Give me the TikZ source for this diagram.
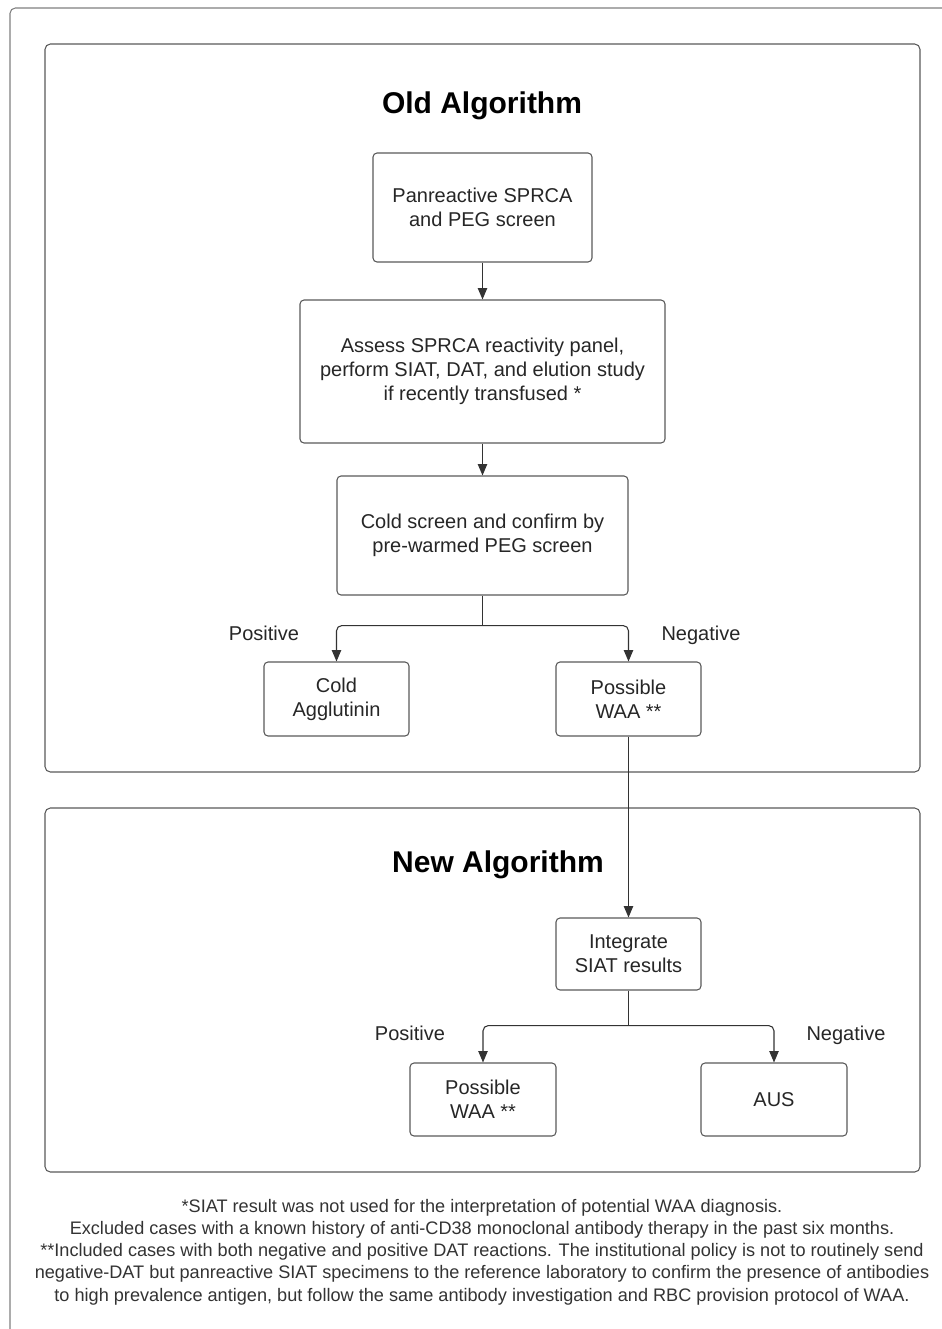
\documentclass[tikz,border=0pt]{standalone}
\usepackage{fontspec}
\setmainfont{Liberation Sans}
\usetikzlibrary{arrows.meta, positioning}

\begin{document}
\begin{tikzpicture}[
	x=0.75pt, y=-0.75pt,
	every node/.style={font=\fontsize{15}{18}\selectfont, text=black!85},
	arrow/.style={-{Triangle[length=8.5pt, width=7pt]}, draw=black!80, line width=0.8pt, rounded corners=4pt},
	link/.style={draw=black!80, line width=0.8pt},
	stepbox/.style={draw=black!65, line width=0.8pt, rounded corners=3pt, align=center, inner sep=0pt},
	panel/.style={draw=black!65, line width=0.8pt, rounded corners=4pt},
	heading/.style={font=\fontsize{22.5}{26}\selectfont\bfseries, text=black}
	]
	
	\useasboundingbox (0,0) rectangle (942,1329);
	
	% === OUTER FRAME ===
	\draw[black!50, line width=0.8pt, rounded corners=4pt] (942,8) -- (10,8) -- (10,1329);
	
	% === PANELS ===
	\draw[panel] (45,44) rectangle (920,772);
	\draw[panel] (45,808) rectangle (920,1172);
	
	% === OLD ALGORITHM ===
	\node[heading] (oldtitle) at (482,106) {Old Algorithm};
	
	\node[stepbox, minimum width=164.25pt, minimum height=81.75pt] 
	(panreactive) at (482.5,207.5) {Panreactive SPRCA\\and PEG screen};
	\node[stepbox, minimum width=273.75pt, minimum height=107.25pt] 
	(assess) at (482.5,371.5) {Assess SPRCA reactivity panel,\\perform SIAT, DAT, and elution study\\if recently transfused *};
	\node[stepbox, minimum width=218.25pt, minimum height=89.25pt] 
	(coldscreen) at (482.5,535.5) {Cold screen and confirm by\\pre-warmed PEG screen};
	
	\node[stepbox, minimum width=108.75pt, minimum height=55.5pt] 
	(coldagg) at (336.5,699) {Cold\\Agglutinin};
	\node[stepbox, minimum width=108.75pt, minimum height=55.5pt] 
	(waaold) at (628.5,699) {Possible\\WAA **};
	
	\node[text depth=0pt] (posold) at (264,633) {Positive};
	\node[text depth=0pt] (negold) at (701,633) {Negative};
	
	\draw[arrow] (panreactive) -- (assess);
	\draw[arrow] (assess) -- (coldscreen);
	\draw[link] (coldscreen.south) -- ++(0,30);
	\draw[arrow] (coldscreen.south) ++(0,30) -| (coldagg.north);
	\draw[arrow] (coldscreen.south) ++(0,30) -| (waaold.north);
	
	% === NEW ALGORITHM ===
	\node[heading] (newtitle) at (498,865) {New Algorithm};
	
	\node[stepbox, minimum width=108.75pt, minimum height=54pt] 
	(integrate) at (628.5,954) {Integrate\\SIAT results};
	\node[stepbox, minimum width=109.5pt, minimum height=54.75pt] 
	(waanew) at (483,1099.5) {Possible\\WAA **};
	\node[stepbox, minimum width=109.5pt, minimum height=54.75pt] 
	(aus) at (774,1099.5) {AUS};
	
	\node[text depth=0pt] (posnew) at (410,1033) {Positive};
	\node[text depth=0pt] (negnew) at (846,1033) {Negative};
	
	\draw[arrow] (waaold) -- (integrate);
	\draw[link] (integrate.south) -- ++(0,35);
	\draw[arrow] (integrate.south) ++(0,35) -| (waanew.north);
	\draw[arrow] (integrate.south) ++(0,35) -| (aus.north);
	
	% === FOOTNOTE ===
	\node[align=center, font=\fontsize{13.6}{16.7}\selectfont, text=black!80] (footnote) at (482,1252)
	{*SIAT result was not used for the interpretation of potential WAA diagnosis.\\
		Excluded cases with a known history of anti-CD38 monoclonal antibody therapy in the past six months.\\
		**Included cases with both negative and positive DAT reactions. The institutional policy is not to routinely send\\
		negative-DAT but panreactive SIAT specimens to the reference laboratory to confirm the presence of antibodies\\
		to high prevalence antigen, but follow the same antibody investigation and RBC provision protocol of WAA.};
	
\end{tikzpicture}
\end{document}
